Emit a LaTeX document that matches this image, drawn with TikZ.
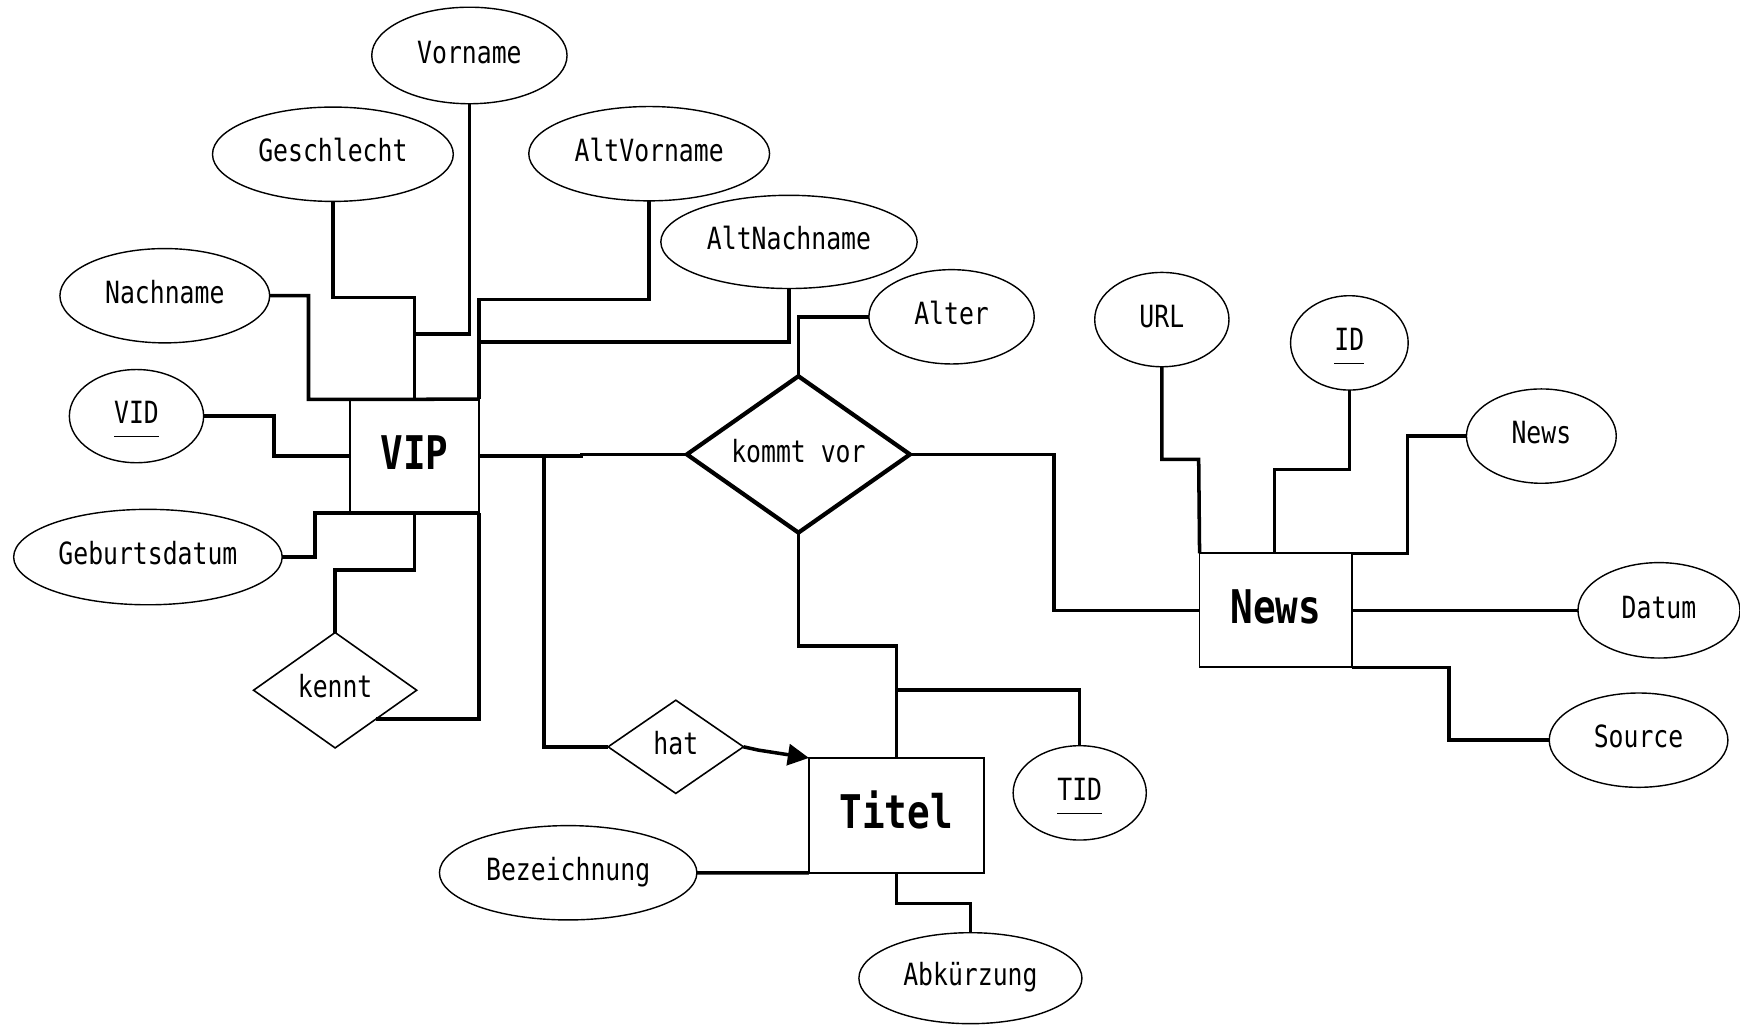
\documentclass[tikz,border=0pt]{standalone}
\usepackage{fontspec}
\usetikzlibrary{shapes.geometric,arrows.meta}
\newfontfamily\erfont[FakeStretch=0.81]{DejaVu Sans Mono}
\newdimen\pxu
\pxu=0.011097cm
% key attribute: name with an underline set a little below the baseline
\newcommand\keyattr[1]{\underline{#1\rule[-2.2pt]{0pt}{0pt}}}
\begin{document}
\begin{tikzpicture}[x=\pxu, y=-\pxu,
  every node/.style={font=\erfont\fontsize{8.7}{10}\selectfont, inner sep=0pt, outer sep=0pt},
  label text/.style={text height=6.6pt, text depth=2.2pt},
  attr/.style 2 args={ellipse, draw, line width=0.4pt, label text,
    minimum width=#1*\pxu, minimum height=#2*\pxu},
  entity/.style 2 args={rectangle, draw, line width=0.5pt, text height=8.4pt, text depth=1pt,
    minimum width=#1*\pxu, minimum height=#2*\pxu,
    font=\erfont\bfseries\fontsize{13.2}{15}\selectfont},
  rel/.style n args={4}{diamond, draw, aspect=#3, line width=#4, label text,
    minimum width=#1*\pxu, minimum height=#2*\pxu},
  conn/.style={line width=1pt},
]
\fill[white] (0,0) rectangle (1568,924);
\useasboundingbox (0,0) rectangle (1568,924);

% entities
\node[entity={116}{102.8}] (vip) at (373.6,411.1) {VIP};
\node[entity={157.4}{103.5}] (titel) at (807.7,734.75) {Titel};
\node[entity={137.6}{102.8}] (news) at (1149.8,550) {News};

% relationships
\node[rel={201}{141}{1.43}{1.2pt}] (kv) at (719.5,409.5) {kommt vor};
\node[rel={122}{84}{1.45}{0.45pt}] (hat) at (609,673) {hat};
\node[rel={147}{104}{1.41}{0.45pt}] (kennt) at (302,622) {kennt};

% attributes of VIP
\node[attr={176}{87}] (vorname) at (423,50) {Vorname};
\node[attr={217}{85}] (geschlecht) at (300,139) {Geschlecht};
\node[attr={217}{85}] (altvorname) at (585,138.5) {AltVorname};
\node[attr={231}{84}] (altnachname) at (711,218) {AltNachname};
\node[attr={189}{85}] (nachname) at (148.5,266.5) {Nachname};
\node[attr={121}{84}] (vid) at (123,375) {\keyattr{VID}};
\node[attr={242}{86}] (geb) at (133.3,502) {Geburtsdatum};

% attribute of the relationship
\node[attr={149}{85}] (alter) at (857.5,285.5) {Alter};

% attributes of News
\node[attr={121}{85}] (url) at (1047,288) {URL};
\node[attr={106}{85}] (id) at (1216,309) {\keyattr{ID}};
\node[attr={135}{85}] (newsattr) at (1389,393) {News};
\node[attr={146}{86}] (datum) at (1495,550) {Datum};
\node[attr={161}{85}] (source) at (1476.6,667) {Source};

% attributes of Titel
\node[attr={120}{85}] (tid) at (973,714.5) {\keyattr{TID}};
\node[attr={232}{85}] (bez) at (512,786.5) {Bezeichnung};
\node[attr={201}{82}] (abk) at (874.5,881.5) {Abkürzung};

% joints on connector lines
\coordinate (fork) at (490,411);
\coordinate (tfork) at (807.7,622);

% VIP connectors
\draw[conn] (geschlecht.south) |- (373.6,268) -- (vip.north);
\draw[conn] (vorname.south) |- (373.6,301) -- (vip.north);
\draw[conn] (nachname.east) -| (278,360) -- (vip.north east);
\draw[conn] (vid.east) -| (246.7,411.1) -- (vip.west);
\draw[conn] (geb.east) -| (284,462.5) -- (vip.south east);
\draw[conn] (altvorname.south) |- (431.6,270) -- (vip.north east);
\draw[conn] (altnachname.south) |- (431.6,308);
\draw[conn] (vip.south) -- (373.6,513.7) -| (kennt.north);
\draw[conn] (kennt.south east) -| (vip.south east);

% relationship "kommt vor"
\draw[conn] (vip.east) -| (524,409.5) -- (kv.west);
\draw[conn] (alter.west) -| (kv.north);
\draw[conn] (kv.south) -- (719.5,582) -| (titel.north);
\draw[conn] (kv.east) -| (950,550) -- (news.west);

% relationship "hat"
\draw[conn] (fork) |- (hat.west);
\draw[conn, -{Triangle[length=6pt,width=6pt]}] (hat.east) -- (683.6,676) -- (titel.north west);

% Titel connectors
\draw[conn] (tfork) -| (tid.north);
\draw[conn] (bez.east) -- (titel.south west);
\draw[conn] (titel.south) -- (807.7,814) -| (abk.north);

% News connectors
\draw[conn] (url.south) |- (1080.2,414) -- (news.north west);
\draw[conn] (id.south) |- (1148.4,423) -- (1148.4,498.6);
\draw[conn] (newsattr.west) -| (1268.2,498.6) -- (news.north east);
\draw[conn] (news.east) -- (datum.west);
\draw[conn] (news.south east) -| (1305.8,667) -- (source.west);
\end{tikzpicture}
\end{document}
